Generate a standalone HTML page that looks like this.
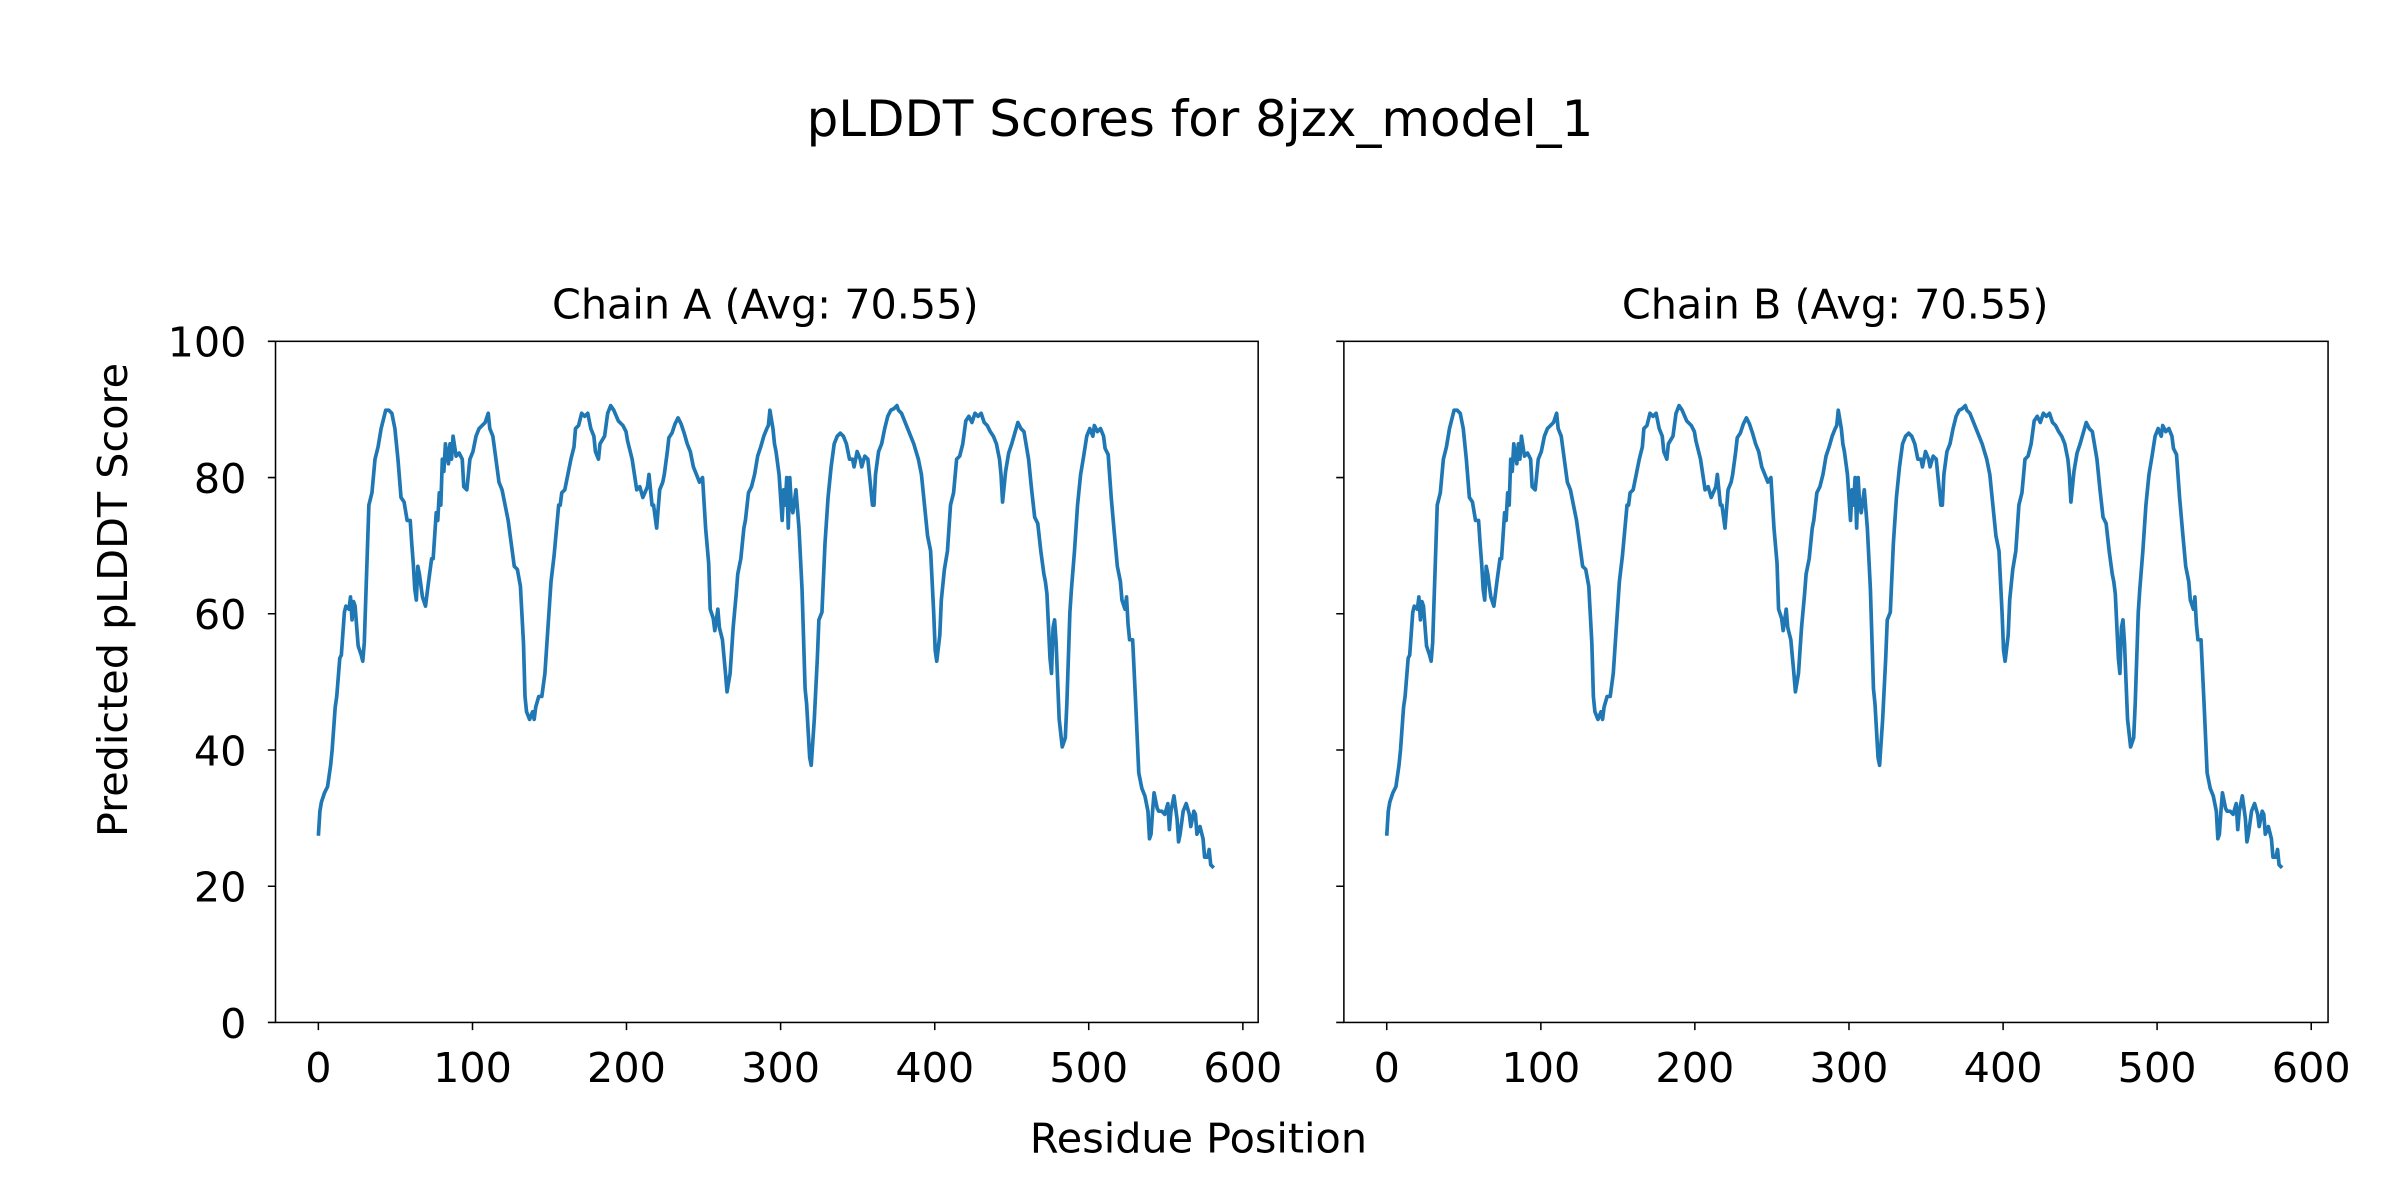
<!DOCTYPE html>
<html><head><meta charset="utf-8"><style>
html,body{margin:0;padding:0;background:#fff}
svg{display:block}
text{font-family:"DejaVu Sans","Liberation Sans",sans-serif;fill:#000}
</style></head><body>
<svg width="2400" height="1200" viewBox="0 0 1568 784" xmlns="http://www.w3.org/2000/svg">
<rect width="1568" height="784" fill="#fff"/>
<text x="784" y="89" font-size="32.6" text-anchor="middle">pLDDT Scores for 8jzx_model_1</text>
<text x="500" y="208" font-size="27" text-anchor="middle">Chain A (Avg: 70.55)</text>
<text x="1199" y="208" font-size="27" text-anchor="middle">Chain B (Avg: 70.55)</text>
<text x="783" y="753" font-size="27" text-anchor="middle">Residue Position</text>
<text transform="translate(83,392) rotate(-90)" font-size="27" text-anchor="middle">Predicted pLDDT Score</text>
<defs>
<polyline id="ln" fill="none" stroke="#1f77b4" stroke-width="2.4" stroke-linejoin="round" points="208,546 209,530 210,524 212,518 214,514 216,500 217,490 219,462 220,455 222,430 223,428 225,400 226,396 228,398 229,390 230,405 231,393 232,396 234,422 236,428 237,432 238,420 240,360 241,330 243,322 245,300 247,292 249,280 252,268 254,268 256,270 258,280 260,300 262,325 264,328 266,340 268,340 269,355 270,368 271,385 272,392 273,370 274,375 276,390 278,396 280,380 282,365 283,365 285,335 286,340 287,322 288,330 289,300 290,308 291,290 293,303 294,290 295,300 296,285 298,298 300,296 302,300 303,318 305,320 307,300 309,295 311,285 313,280 315,278 317,276 319,270 320,280 322,285 324,300 326,315 328,320 330,330 332,340 334,355 336,370 338,372 340,383 342,420 343,455 344,465 346,470 348,465 349,470 350,462 352,455 354,455 356,440 358,410 360,380 362,363 363,352 365,330 366,330 367,322 369,320 371,310 373,300 375,292 376,280 378,278 380,270 382,272 384,270 386,280 388,285 389,295 391,300 392,290 395,285 397,270 399,265 401,268 404,275 407,278 409,282 410,288 413,300 416,320 418,318 420,325 423,318 424,310 426,330 427,330 429,345 431,320 433,315 434,310 436,295 437,286 439,283 441,277 443,273 445,277 447,283 449,290 451,295 453,305 455,310 457,315 459,312 461,345 463,368 464,398 466,404 467,412 469,398 470,410 472,418 474,440 475,452 477,440 479,410 481,388 482,375 484,365 486,345 487,340 489,322 491,318 493,310 495,298 497,292 499,285 501,280 502,278 503,268 505,280 506,290 507,295 509,310 511,340 512,320 513,330 514,312 515,345 516,312 517,330 518,335 520,320 522,345 524,385 526,450 527,460 529,495 530,500 532,470 534,430 535,405 537,400 539,355 541,325 543,305 545,290 547,285 549,283 551,285 553,290 555,300 557,300 558,305 560,295 562,300 563,305 565,298 567,300 569,320 570,330 571,330 572,310 574,295 576,290 578,280 580,272 582,268 584,267 586,265 587,268 589,270 591,275 593,280 595,285 597,290 600,300 602,310 604,330 606,350 608,360 610,400 611,425 612,432 614,415 615,392 617,372 619,360 621,330 623,322 625,300 627,298 629,290 631,275 633,272 635,276 637,270 639,272 641,270 643,276 645,278 647,282 649,285 651,290 653,300 654,310 655,328 657,308 659,296 661,290 663,283 665,276 667,280 669,282 670,288 672,300 674,320 676,338 678,342 680,360 682,375 683,380 684,388 686,430 687,440 688,410 689,405 690,420 692,470 694,488 696,482 697,460 699,400 700,385 702,360 704,330 706,310 708,298 710,285 712,280 714,285 715,278 717,282 719,280 721,285 722,293 724,297 726,325 728,348 730,370 732,380 733,392 735,398 736,390 737,408 738,418 740,418 742,460 744,505 746,515 748,520 750,530 751,548 752,545 753,530 754,518 756,528 757,530 759,530 761,532 763,525 764,542 765,530 767,520 769,535 770,550 771,545 773,530 775,525 777,532 778,540 780,530 781,532 782,545 784,540 786,548 787,560 789,560 790,555 791,565 793,567"/>
</defs>
<use href="#ln"/>
<use href="#ln" transform="translate(698,0)"/>
<g fill="none" stroke="#000" stroke-width="1">
<rect x="180" y="223" width="642" height="445"/>
<rect x="878" y="223" width="643" height="445"/>
<path d="M180,668h-5M180,579h-5M180,490h-5M180,401h-5M180,312h-5M180,223h-5
M878,668h-5M878,579h-5M878,490h-5M878,401h-5M878,312h-5M878,223h-5
M208,668v5M308.7,668v5M409.3,668v5M510,668v5M610.7,668v5M711.3,668v5M812,668v5
M906,668v5M1006.7,668v5M1107.3,668v5M1208,668v5M1308.7,668v5M1409.3,668v5M1510,668v5"/>
</g>
<g font-size="27" text-anchor="end">
<text x="161" y="678">0</text><text x="161" y="589">20</text><text x="161" y="500">40</text>
<text x="161" y="411">60</text><text x="161" y="322">80</text><text x="161" y="233">100</text>
</g>
<g font-size="27" text-anchor="middle">
<text x="208" y="707">0</text><text x="308.7" y="707">100</text><text x="409.3" y="707">200</text><text x="510" y="707">300</text><text x="610.7" y="707">400</text><text x="711.3" y="707">500</text><text x="812" y="707">600</text>
<text x="906" y="707">0</text><text x="1006.7" y="707">100</text><text x="1107.3" y="707">200</text><text x="1208" y="707">300</text><text x="1308.7" y="707">400</text><text x="1409.3" y="707">500</text><text x="1510" y="707">600</text>
</g>
</svg>
</body></html>
